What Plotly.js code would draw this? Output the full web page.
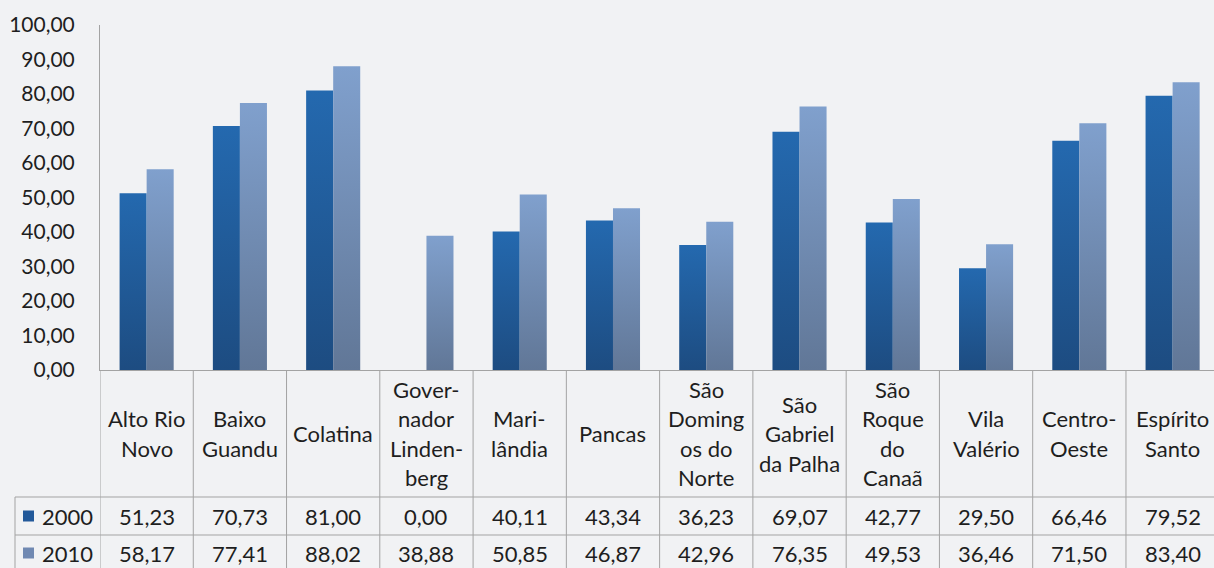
<!DOCTYPE html>
<html>
<head>
<meta charset="utf-8">
<script src="https://cdn.plot.ly/plotly-3.0.1.min.js"></script>
<style>
html,body{margin:0;padding:0;background:#F1F2F4;}
#chart{width:1214px;height:568px;}
</style>
</head>
<body>
<div id="chart"></div>
<script>
const categories = ["Alto Rio<br>Novo","Baixo<br>Guandu","Colatina","Gover-<br>nador<br>Linden-<br>berg","Mari-<br>lândia","Pancas","São<br>Doming<br>os do<br>Norte","São<br>Gabriel<br>da Palha","São<br>Roque<br>do<br>Canaã","Vila<br>Valério","Centro-<br>Oeste","Espírito<br>Santo"];
const seriesNames = ["2000","2010"];
const values2000 = [51.23,70.73,81.00,0.00,40.11,43.34,36.23,69.07,42.77,29.50,66.46,79.52];
const values2010 = [58.17,77.41,88.02,38.88,50.85,46.87,42.96,76.35,49.53,36.46,71.50,83.40];
const yTickVals = [0,10,20,30,40,50,60,70,80,90,100];

const W = 1214, H = 568;
const L = 100, T = 25, B = 370;
const plotW = W - L, plotH = B - T;
const colW = 93.27;
const xp = px => (px - L) / plotW;
const yp = py => (B - py) / plotH;
const fmt = v => v.toFixed(2).replace('.', ',');

const FONT = "Lato, 'Open Sans', sans-serif";
const TXT = '#1e1e1e';
const LINE = '#A3A3A3';
const C2000 = '#22599A', C2010 = '#7089B2';
const TSIZE = 22;

const traces = [
  {type:'bar', name:seriesNames[0], x:categories, y:values2000, marker:{color:C2000, line:{width:0}}, hoverinfo:'none'},
  {type:'bar', name:seriesNames[1], x:categories, y:values2010, marker:{color:C2010, line:{width:0}}, hoverinfo:'none'}
];

const shapes = [];
const annotations = [];
const yBottom = yp(H + 5);

for (let k = 0; k <= categories.length; k++) {
  shapes.push({type:'line', xref:'x', yref:'paper', x0:k-0.5, x1:k-0.5, y0:0, y1:yBottom, line:{color:LINE, width:1}});
}
shapes.push({type:'line', xref:'paper', yref:'paper', x0:xp(15), x1:xp(15), y0:yp(497), y1:yBottom, line:{color:LINE, width:1}});
[497, 535].forEach(py => {
  shapes.push({type:'line', xref:'paper', yref:'paper', x0:xp(15), x1:1.01, y0:yp(py), y1:yp(py), line:{color:LINE, width:1}});
});

const headerMid = 433.5, lineGap = 29.5;
categories.forEach((c, i) => {
  const lines = c.split('<br>');
  const n = lines.length;
  lines.forEach((ln, j) => {
    const py = headerMid + (j - (n - 1) / 2) * lineGap;
    annotations.push({xref:'x', yref:'paper', x:i, y:yp(py), text:ln, showarrow:false,
      xanchor:'center', yanchor:'middle', font:{family:FONT, size:TSIZE, color:TXT}});
  });
});

const rows = [{vals:values2000, py:516, color:C2000, name:seriesNames[0]}, {vals:values2010, py:553, color:C2010, name:seriesNames[1]}];
rows.forEach(r => {
  r.vals.forEach((v, i) => {
    annotations.push({xref:'x', yref:'paper', x:i, y:yp(r.py), text:fmt(v), showarrow:false,
      xanchor:'center', yanchor:'middle', font:{family:FONT, size:TSIZE, color:TXT}});
  });
  annotations.push({xref:'paper', yref:'paper', x:xp(40), y:yp(r.py), text:r.name, showarrow:false,
    xanchor:'left', yanchor:'middle', font:{family:FONT, size:TSIZE, color:TXT}});
  shapes.push({type:'rect', xref:'paper', yref:'paper', x0:xp(23), x1:xp(34), y0:yp(r.py-5.5), y1:yp(r.py+5.5),
    fillcolor:r.color, line:{width:0}});
});

const layout = {
  width:W, height:H,
  margin:{l:L, r:0, t:T, b:H-B, pad:0},
  paper_bgcolor:'#F1F2F4', plot_bgcolor:'#F1F2F4',
  showlegend:false,
  barmode:'group', bargap:0.42, bargroupgap:0,
  separators:',.',
  font:{family:FONT, size:21, color:TXT},
  xaxis:{type:'category', range:[-0.5, -0.5 + plotW/colW], showticklabels:false, ticks:'',
    showline:true, linecolor:LINE, linewidth:1, showgrid:false, zeroline:false, fixedrange:true},
  yaxis:{range:[0,100], tickvals:yTickVals, tickformat:'.2f', ticks:'outside', ticklen:0,
    ticklabelstandoff:20, showline:true, linecolor:LINE, linewidth:1, showgrid:false, zeroline:false,
    tickfont:{family:FONT, size:21, color:TXT}, fixedrange:true},
  shapes:shapes,
  annotations:annotations
};

Plotly.newPlot('chart', traces, layout, {staticPlot:true, displayModeBar:false}).then(gd => {
  const svg = gd.querySelector('svg.main-svg');
  const ns = 'http://www.w3.org/2000/svg';
  let defs = svg.querySelector('defs');
  if (!defs) { defs = document.createElementNS(ns, 'defs'); svg.insertBefore(defs, svg.firstChild); }
  const grads = [['g2000', '#2469AF', '#1D4C81'], ['g2010', '#80A0CD', '#617797']];
  grads.forEach(([id, top, bot]) => {
    const g = document.createElementNS(ns, 'linearGradient');
    g.setAttribute('id', id); g.setAttribute('x1', '0'); g.setAttribute('y1', '0'); g.setAttribute('x2', '0'); g.setAttribute('y2', '1');
    const s1 = document.createElementNS(ns, 'stop'); s1.setAttribute('offset', '0'); s1.setAttribute('stop-color', top);
    const s2 = document.createElementNS(ns, 'stop'); s2.setAttribute('offset', '1'); s2.setAttribute('stop-color', bot);
    g.appendChild(s1); g.appendChild(s2); defs.appendChild(g);
  });
  gd.querySelectorAll('g.trace.bars').forEach((tr, ti) => {
    tr.querySelectorAll('path').forEach(p => { p.style.fill = 'url(#' + grads[ti][0] + ')'; });
  });
});
</script>
</body>
</html>
